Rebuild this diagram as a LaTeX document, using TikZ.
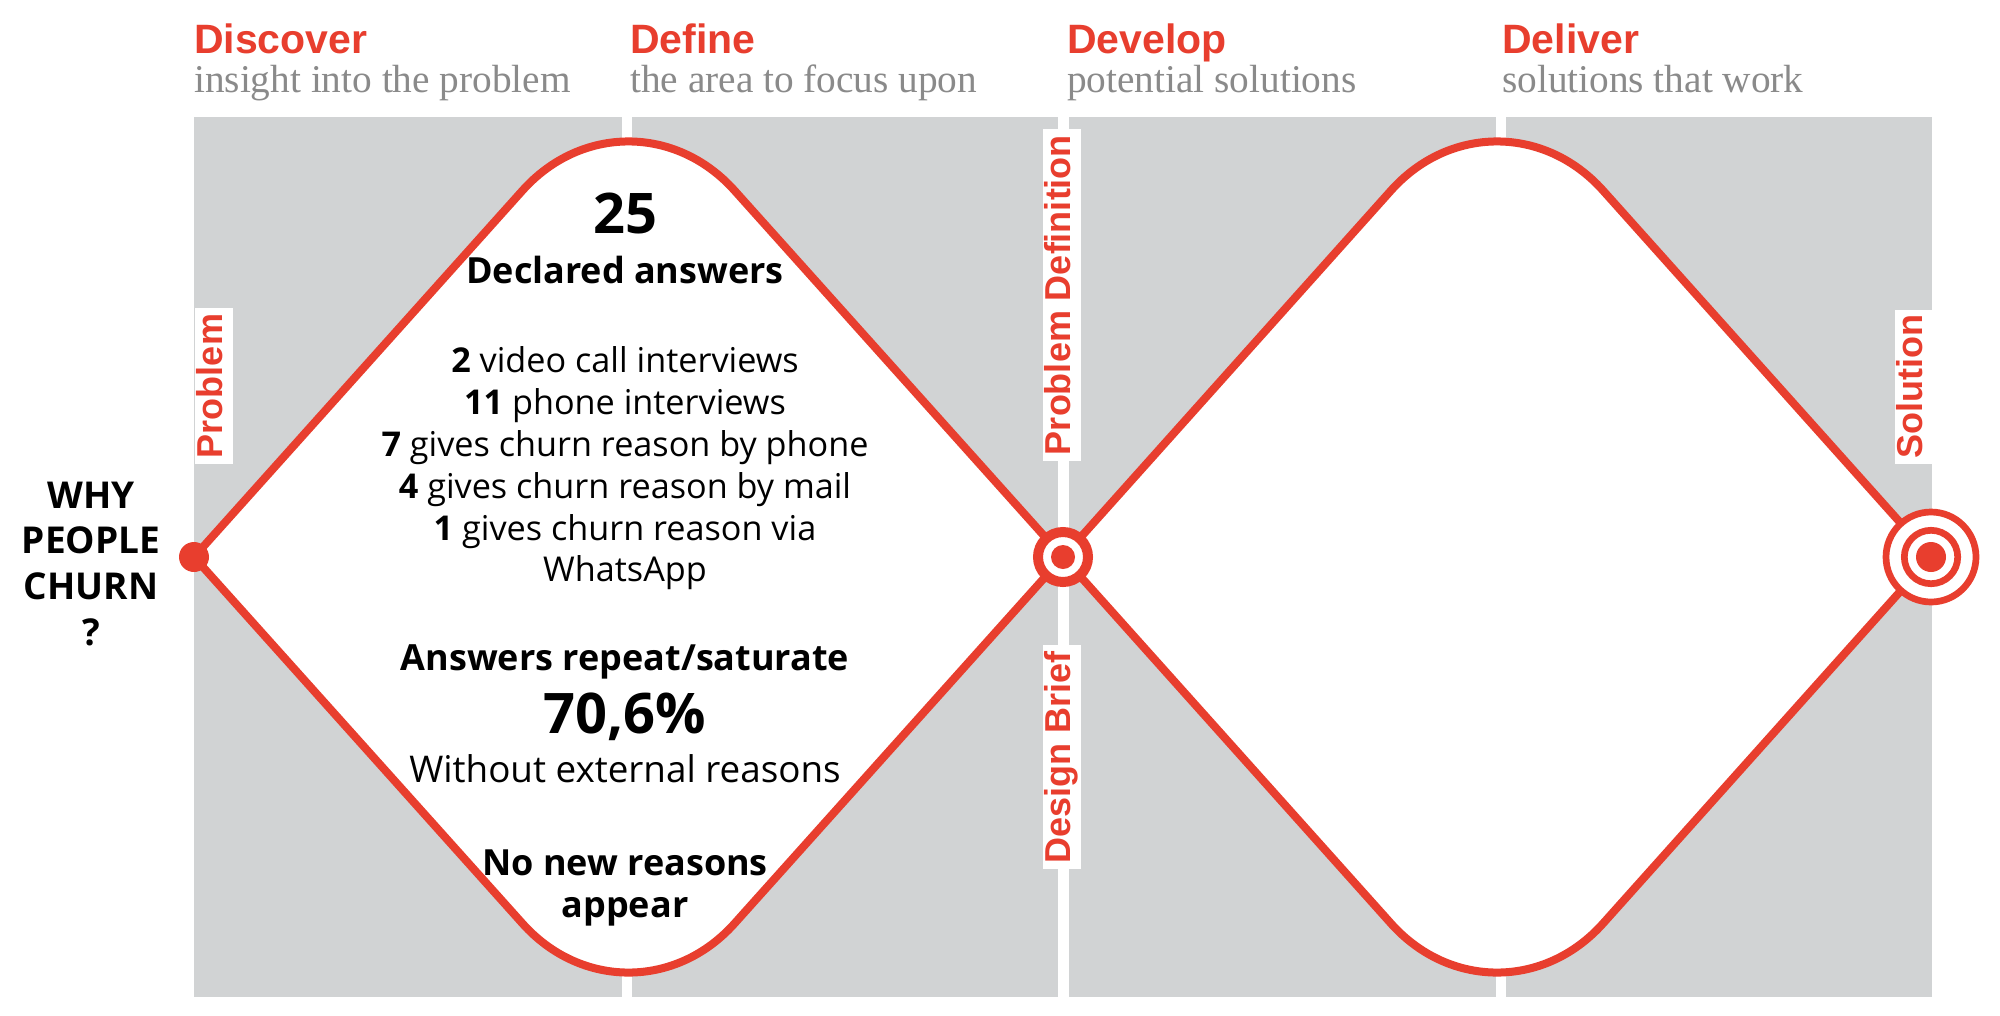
\documentclass[tikz,border=0pt]{standalone}
\usepackage{fontspec}
\setmainfont{Open Sans}
\newfontfamily\headfont{Liberation Sans}
\newfontfamily\subfont{Liberation Serif}
\definecolor{ddred}{RGB}{232,62,46}
\definecolor{panelgray}{RGB}{209,211,212}
\definecolor{subgray}{RGB}{138,138,138}
\newcommand\setfs[1]{\fontsize{#1}{#1}\selectfont}

\begin{document}
\begin{tikzpicture}[x=1pt,y=-1pt,
  panel/.style={fill=panelgray},
  phase/.style={anchor=base west, inner sep=0, text=ddred, font=\headfont\bfseries\setfs{41}},
  phasesub/.style={anchor=base west, inner sep=0, text=subgray, font=\subfont\setfs{39.3}},
  milestone/.style={rotate=90, anchor=north, fill=white, text=ddred,
    font=\headfont\bfseries\setfs{36}, inner ysep=0pt, inner xsep=5.5pt,
    text height=27pt, text depth=11pt},
  stat/.style={anchor=base, inner sep=0, font=\setfs{34.2}},
  statbold/.style={anchor=base, inner sep=0, font=\bfseries\setfs{36}},
  statbig/.style={anchor=base, inner sep=0, font=\bfseries\setfs{56}},
  question/.style={anchor=base, inner sep=0, font=\bfseries\setfs{37}},
  ddline/.style={draw=ddred, line width=8pt, fill=white},
]
\useasboundingbox (0,0) rectangle (2000,1015);
\fill[white] (0,0) rectangle (2000,1015);

% phase panels
\fill[panel] (194,117) rectangle (622,997);
\fill[panel] (632,117) rectangle (1058,997);
\fill[panel] (1069,117) rectangle (1496,997);
\fill[panel] (1506,117) rectangle (1932,997);

% phase headings
\node[phase] (discover) at (194,53) {Discover};
\node[phasesub] (discoversub) at (194,92) {insight into the problem};
\node[phase] (define) at (630,53) {Define};
\node[phasesub] (definesub) at (630,92) {the area to focus upon};
\node[phase] (develop) at (1067,53) {Develop};
\node[phasesub] (developsub) at (1067,92) {potential solutions};
\node[phase] (deliver) at (1502,53) {Deliver};
\node[phasesub] (deliversub) at (1502,92) {solutions that work};

% key points of the double diamond
\coordinate (start) at (194,557);
\coordinate (junction) at (1063,557);
\coordinate (goal) at (1931,557);

% first diamond
\path[ddline] (start) -- (522.5,190.5) .. controls (581.1,125.1) and (675.9,125.1) .. (734.5,190.5)
  -- (junction) -- (734.5,923.5) .. controls (675.9,988.9) and (581.1,988.9) .. (522.5,923.5) -- cycle;
% second diamond
\path[ddline] (junction) -- (1391,190.5) .. controls (1449.6,125.1) and (1544.4,125.1) .. (1603,190.5)
  -- (goal) -- (1603,923.5) .. controls (1544.4,988.9) and (1449.6,988.9) .. (1391,923.5) -- cycle;

% milestone labels
\node[milestone] (problem) at (195,386) {Problem};
\node[milestone] (problemdef) at (1043,295) {Problem Definition};
\node[milestone] (brief) at (1043,757) {Design Brief};
\node[milestone] (solution) at (1895,387) {Solution};

% markers
\node[circle, fill=ddred, inner sep=0, minimum size=30pt] (startdot) at (start) {};
\node[circle, fill=white, draw=ddred, line width=10pt, inner sep=0, minimum size=50pt] (junctionring) at (junction) {};
\node[circle, fill=ddred, inner sep=0, minimum size=24pt] (junctiondot) at (junction) {};
\node[circle, fill=white, draw=ddred, line width=6.7pt, inner sep=0, minimum size=90pt] (goalouter) at (goal) {};
\node[circle, draw=ddred, line width=6.7pt, inner sep=0, minimum size=53.4pt] (goalinner) at (goal) {};
\node[circle, fill=ddred, inner sep=0, minimum size=30pt] (goaldot) at (goal) {};

% research question
\node[question] (q1) at (91,508) {WHY};
\node[question] (q2) at (91,553) {PEOPLE};
\node[question] (q3) at (91,599) {CHURN};
\node[question] (q4) at (91,645) {?};

% findings inside the first diamond
\node[statbig] (total) at (625,233) {25};
\node[statbold] (declared) at (625,283) {Declared answers};
\node[stat] (video) at (625,372) {\textbf{2} video call interviews};
\node[stat] (phone) at (625,414) {\textbf{11} phone interviews};
\node[stat] (byphone) at (625,456) {\textbf{7} gives churn reason by phone};
\node[stat] (bymail) at (625,498) {\textbf{4} gives churn reason by mail};
\node[stat] (bywa) at (625,540) {\textbf{1} gives churn reason via};
\node[stat] (wa) at (625,581) {WhatsApp};
\node[statbold] (repeat) at (625,670) {Answers repeat/saturate};
\node[statbig] (share) at (625,733) {70,6\%};
\node[stat, font=\setfs{36.8}] (external) at (625,782) {Without external reasons};
\node[statbold] (nonew) at (625,875) {No new reasons};
\node[statbold] (appear) at (625,917) {appear};
\end{tikzpicture}
\end{document}
